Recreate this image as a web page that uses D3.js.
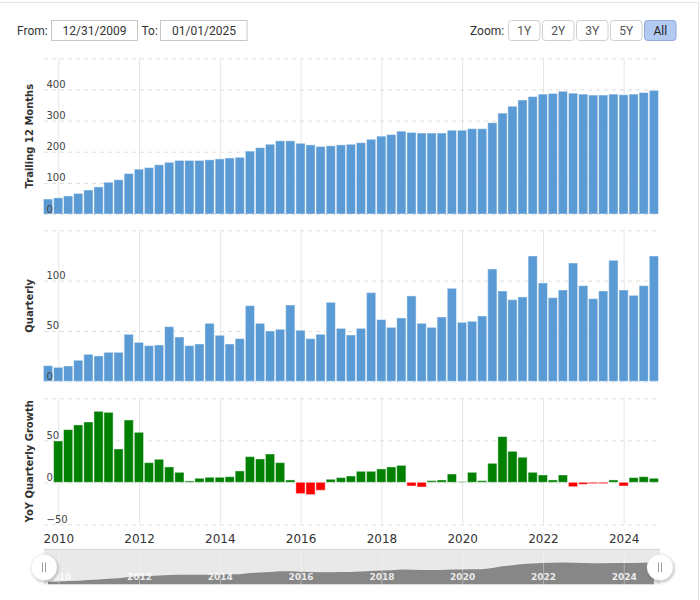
<!DOCTYPE html>
<html>
<head>
<meta charset="utf-8">
<script src="https://cdn.jsdelivr.net/npm/d3@7"></script>
<style>
  body { margin: 0; background: #fff; }
  svg { display: block; }
</style>
</head>
<body>
<svg id="chart"></svg>
<script>
// quarter end dates (categories)
const quarters = [
    "2009-09-30", "2009-12-31",
    "2010-03-31", "2010-06-30", "2010-09-30", "2010-12-31",
    "2011-03-31", "2011-06-30", "2011-09-30", "2011-12-31",
    "2012-03-31", "2012-06-30", "2012-09-30", "2012-12-31",
    "2013-03-31", "2013-06-30", "2013-09-30", "2013-12-31",
    "2014-03-31", "2014-06-30", "2014-09-30", "2014-12-31",
    "2015-03-31", "2015-06-30", "2015-09-30", "2015-12-31",
    "2016-03-31", "2016-06-30", "2016-09-30", "2016-12-31",
    "2017-03-31", "2017-06-30", "2017-09-30", "2017-12-31",
    "2018-03-31", "2018-06-30", "2018-09-30", "2018-12-31",
    "2019-03-31", "2019-06-30", "2019-09-30", "2019-12-31",
    "2020-03-31", "2020-06-30", "2020-09-30", "2020-12-31",
    "2021-03-31", "2021-06-30", "2021-09-30", "2021-12-31",
    "2022-03-31", "2022-06-30", "2022-09-30", "2022-12-31",
    "2023-03-31", "2023-06-30", "2023-09-30", "2023-12-31",
    "2024-03-31", "2024-06-30", "2024-09-30"
];

// trailing 12 months values
const ttm = [48, 52, 58, 66, 77, 87, 102, 110, 130, 144, 149, 158, 166, 172, 172, 172,
    174, 177, 180, 182, 202, 213, 224, 235, 235, 227, 222, 217, 219, 222, 224, 229,
    240, 250, 255, 266, 262, 260, 260, 260, 269, 269, 274, 274, 293, 324, 346, 366,
    377, 385, 387, 394, 388, 385, 382, 382, 385, 383, 385, 390, 397];

// quarterly values
const quarterly = [15.6, 13.9, 15.2, 20.9, 26.8, 25.2, 28.8, 28.8, 46.7, 38.7, 35.4, 36.1,
    54.3, 44.0, 35.4, 37.1, 57.6, 45.7, 37.1, 42.4, 75.2, 57.6, 50.0, 51.7, 75.8, 50.7,
    42.4, 46.7, 78.5, 52.6, 46.0, 52.6, 88.1, 61.3, 53.6, 62.9, 84.8, 57.6, 53.6, 63.9,
    92.4, 58.6, 59.6, 64.9, 111.6, 89.7, 81.1, 83.8, 124.5, 97.7, 83.1, 90.7, 117.5, 95.0,
    82.1, 89.7, 120.2, 90.7, 85.4, 95.0, 124.5];

// YoY quarterly growth (%)
const yoyGrowth = [null, 49.2, 62.7, 68.3, 71.8, 84.5, 83.3, 39.7, 74.2, 59.5, 23.4, 27.4,
    18.3, 11.9, 1.6, 4.8, 6.0, 6.0, 6.7, 13.5, 30.6, 27.8, 33.7, 23.4, 2.8, -13.5, -14.7,
    -9.5, 3.6, 5.6, 7.5, 13.1, 13.1, 15.9, 18.3, 20.2, -4.4, -5.6, 2.0, 2.8, 9.9, 0.8,
    11.9, 2.0, 22.6, 54.4, 36.9, 29.8, 11.9, 8.7, 2.8, 8.7, -5.2, -2.4, -1.6, -1.6, 2.8,
    -4.4, 5.6, 6.7, 4.8];

// tick labels
const yearTicks = [2010, 2012, 2014, 2016, 2018, 2020, 2022, 2024];
const ttmTicks = [0, 100, 200, 300, 400];
const quarterlyTicks = [0, 50, 100];
const yoyTicks = [-50, 0, 50];
const zoomButtons = ["1Y", "2Y", "3Y", "5Y", "All"];
const fromDate = "12/31/2009";
const toDate = "01/01/2025";

const width = 700;
const height = 600;
const plotLeft = 44;
const plotRight = 657;
const barWidth = 9.2;
const blue = "#5b9bd5";

const parseDate = d3.timeParse("%Y-%m-%d");
const dates = quarters.map(parseDate);

const svg = d3.select("#chart")
    .attr("width", width)
    .attr("height", height)
    .style("font-family", "'DejaVu Sans', Verdana, sans-serif");

const defs = svg.append("defs");
defs.append("filter")
    .attr("id", "shadow")
    .attr("x", "-50%").attr("y", "-50%")
    .attr("width", "200%").attr("height", "200%")
    .append("feDropShadow")
    .attr("dx", 1).attr("dy", 1.5)
    .attr("stdDeviation", 1.6)
    .attr("flood-color", "#000")
    .attr("flood-opacity", 0.3);

// outer frame (top and right edges)
svg.append("path")
    .attr("d", "M0,2.5H698.5V600")
    .attr("fill", "none")
    .attr("stroke", "#e3e3e3");

// time scale shared by all panels
const x = d3.scaleTime()
    .domain([new Date(2010, 0, 1), new Date(2024, 0, 1)])
    .range([58.3, 623.7]);

// ---------- header ----------
const header = svg.append("g")
    .style("font-family", "Roboto, sans-serif")
    .style("font-size", "12px")
    .attr("fill", "#333");

header.append("text").attr("x", 17).attr("y", 34.5).text("From:");
header.append("rect")
    .attr("x", 51.5).attr("y", 20.5).attr("width", 86).attr("height", 20)
    .attr("fill", "#fff").attr("stroke", "#c8c8c8");
header.append("text").attr("x", 94.5).attr("y", 34.5)
    .attr("text-anchor", "middle").text(fromDate);
header.append("text").attr("x", 141.5).attr("y", 34.5).text("To:");
header.append("rect")
    .attr("x", 160.5).attr("y", 20.5).attr("width", 86.5).attr("height", 20)
    .attr("fill", "#fff").attr("stroke", "#c8c8c8");
header.append("text").attr("x", 204).attr("y", 34.5)
    .attr("text-anchor", "middle").text(toDate);

header.append("text").attr("x", 470).attr("y", 34.5).text("Zoom:");

let btn = header.selectAll("g.btn")
    .data(zoomButtons)
    .enter()
    .append("g")
    .attr("class", "btn")
    .attr("transform", (d, i) => "translate(" + (508.5 + i * 34) + ",20.5)");

btn.append("rect")
    .attr("width", 31.5)
    .attr("height", 20)
    .attr("rx", 3)
    .attr("fill", d => d === "All" ? "#b2c9f1" : "#fff")
    .attr("stroke", d => d === "All" ? "#8ea9d9" : "#d0d0d0");

btn.append("text")
    .attr("x", 15.75)
    .attr("y", 14)
    .attr("text-anchor", "middle")
    .attr("fill", d => d === "All" ? "#222" : "#555")
    .text(d => d);

// ---------- panels ----------
const panels = [
    { values: ttm, domain: [0, 500], top: 58.3, bottom: 214, ticks: ttmTicks,
      grid: [0, 100, 200, 300, 400, 500], title: "Trailing 12 Months" },
    { values: quarterly, domain: [0, 150], top: 230.3, bottom: 381.3, ticks: quarterlyTicks,
      grid: [0, 50, 100, 150], title: "Quarterly" },
    { values: yoyGrowth, domain: [-50, 100], top: 398.3, bottom: 524.3, ticks: yoyTicks,
      grid: [-50, 0, 50, 100], title: "YoY Quarterly Growth", growth: true }
];

panels.forEach(function(p) {
    let y = d3.scaleLinear()
        .domain(p.domain)
        .range([p.bottom, p.top]);

    let g = svg.append("g");

    // vertical grid
    g.append("g")
        .attr("transform", "translate(0," + p.bottom + ")")
        .call(d3.axisBottom(x)
            .tickValues(yearTicks.map(yr => new Date(yr, 0, 1)))
            .tickSize(-(p.bottom - p.top))
            .tickFormat(""))
        .call(a => a.select(".domain").remove())
        .call(a => a.selectAll("line").attr("stroke", "#e6e6e6"));

    // horizontal dashed grid
    g.append("g")
        .attr("transform", "translate(" + plotLeft + ",0)")
        .call(d3.axisLeft(y)
            .tickValues(p.grid)
            .tickSize(-(plotRight - plotLeft))
            .tickFormat(""))
        .call(a => a.select(".domain").remove())
        .call(a => a.selectAll("line")
            .attr("stroke", "#dedede")
            .attr("stroke-dasharray", "4,4"));

    // bars
    let data = p.values.map((v, i) => ({ date: dates[i], value: v }))
        .filter(d => d.value !== null);

    g.append("g")
        .selectAll("rect")
        .data(data)
        .enter()
        .append("rect")
        .attr("x", d => x(d.date) - barWidth / 2)
        .attr("width", barWidth)
        .attr("y", d => y(Math.max(0, d.value)))
        .attr("height", d => Math.abs(y(d.value) - y(0)))
        .attr("fill", d => p.growth ? (d.value < 0 ? "#ff0000" : "#008000") : blue)
        .attr("stroke", "#fff")
        .attr("stroke-opacity", 0.45)
        .attr("stroke-width", 1);

    // y labels, sitting on top of their grid line
    g.append("g")
        .attr("transform", "translate(" + plotLeft + ",0)")
        .call(d3.axisRight(y)
            .tickValues(p.ticks)
            .tickSize(0)
            .tickFormat(d3.format("d")))
        .call(a => a.select(".domain").remove())
        .call(a => a.selectAll("text")
            .attr("x", 2.5)
            .attr("dy", -2)
            .attr("fill", "#444")
            .style("font-family", "'DejaVu Sans', Verdana, sans-serif")
            .style("font-size", "10px"));

    // axis title
    g.append("text")
        .attr("transform", "translate(33," + ((p.top + p.bottom) / 2) + ") rotate(-90)")
        .attr("text-anchor", "middle")
        .attr("fill", "#333")
        .style("font-size", "10px")
        .style("font-weight", "bold")
        .text(p.title);
});

// x axis labels
svg.append("g")
    .attr("transform", "translate(0,531)")
    .call(d3.axisBottom(x)
        .tickValues(yearTicks.map(yr => new Date(yr, 0, 1)))
        .tickSize(0)
        .tickFormat(d3.timeFormat("%Y")))
    .call(a => a.select(".domain").remove())
    .call(a => a.selectAll("text")
        .attr("dy", "0.71em")
        .attr("fill", "#333")
        .style("font-family", "'DejaVu Sans', Verdana, sans-serif")
        .style("font-size", "12px"));

// ---------- navigator ----------
const navTop = 549.3;
const navBottom = 584.3;
const navLeft = 44;
const navRight = 660;

const navY = d3.scaleLinear()
    .domain([0, 632])
    .range([navBottom, navTop]);

const nav = svg.append("g");

nav.append("rect")
    .attr("x", navLeft)
    .attr("y", navTop)
    .attr("width", navRight - navLeft)
    .attr("height", navBottom - navTop)
    .attr("fill", "#e9e9e9");

nav.append("line")
    .attr("x1", navLeft).attr("x2", navRight)
    .attr("y1", navTop).attr("y2", navTop)
    .attr("stroke", "#d4d4d4");

nav.append("path")
    .datum(ttm.map((v, i) => ({ date: dates[i], value: v })))
    .attr("fill", "#878787")
    .attr("d", d3.area()
        .x(d => x(d.date))
        .y0(navBottom)
        .y1(d => navY(d.value)));

nav.append("g")
    .attr("transform", "translate(0," + navBottom + ")")
    .call(d3.axisBottom(x)
        .tickValues(yearTicks.map(yr => new Date(yr, 0, 1)))
        .tickSize(-(navBottom - navTop))
        .tickFormat(d3.timeFormat("%Y")))
    .call(a => a.select(".domain").remove())
    .call(a => a.selectAll("line").attr("stroke", "#fff").attr("stroke-opacity", 0.35))
    .call(a => a.selectAll("text")
        .attr("y", -4)
        .attr("dy", 0)
        .attr("fill", "#fff")
        .attr("fill-opacity", 0.85)
        .style("font-family", "'DejaVu Sans', Verdana, sans-serif")
        .style("font-size", "9px")
        .style("font-weight", "bold"));

// handles
const handles = nav.selectAll("g.handle")
    .data([navLeft, navRight])
    .enter()
    .append("g")
    .attr("class", "handle")
    .attr("transform", d => "translate(" + d + ",567.3)");

handles.append("circle")
    .attr("r", 13)
    .attr("fill", "#fff")
    .attr("stroke", "#ddd")
    .attr("stroke-width", 0.5)
    .attr("filter", "url(#shadow)");

handles.selectAll("line")
    .data([-1.5, 1.5])
    .enter()
    .append("line")
    .attr("x1", d => d).attr("x2", d => d)
    .attr("y1", -5).attr("y2", 5)
    .attr("stroke", "#a0a0a0")
    .attr("stroke-width", 1);
</script>
</body>
</html>
